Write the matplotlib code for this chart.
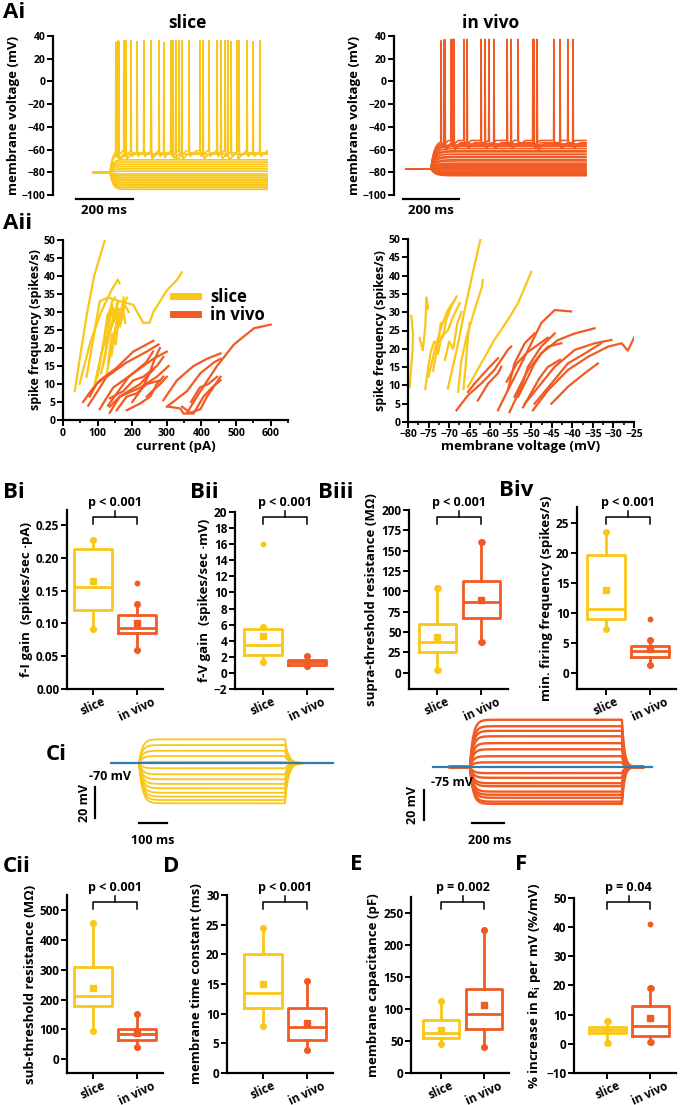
import numpy as np
import matplotlib
matplotlib.use("Agg")
import matplotlib.pyplot as plt
from matplotlib.transforms import blended_transform_factory
from matplotlib.ticker import MultipleLocator

plt.rcParams['font.family'] = ['Open Sans', 'DejaVu Sans']
plt.rcParams['font.weight'] = 'bold'
plt.rcParams['axes.labelweight'] = 'bold'
plt.rcParams['mathtext.default'] = 'regular'

W, H = 682, 1105
YEL = "#F9C619"
ORG = "#F15A22"
BLUE = "#2E7DAF"

# ---------------- data ----------------
# Ai: steady-state levels (mV) and spike times (ms) of the current-step traces
ai_slice_levels = [-95, -93.5, -92, -90.5, -89, -87.5, -86, -84.5, -83, -81.5, -79, -77, -75, -73, -71, -69]
ai_slice_spike_base = [-61, -63, -64]
ai_slice_spikes = [
    [80, 108, 133, 154, 178, 203, 231, 248, 273, 301, 336, 375, 406, 434, 462, 483, 511, 539, 560, 584],
    [87, 115, 203, 280, 311, 385, 448, 504],
    [90, 290, 472],
]
ai_vivo_levels = [-83, -82.5, -82, -81, -80.5, -80, -79, -78, -77, -76, -75, -74, -73, -72,
                  -70, -69, -67, -66, -64, -62, -61, -59, -57, -56]
ai_vivo_spike_base = [-52, -54, -55]
ai_vivo_spikes = [
    [125, 161, 207, 268, 296, 361, 400, 453, 528, 578],
    [136, 168, 218, 282, 314, 375, 457, 550, 596],
    [139, 171, 468],
]

# Aii: f-I curves (pA, spikes/s)
fi_slice = [
    [(34, 8), (50, 18), (70, 30), (90, 40), (121, 50)],
    [(48, 10), (80, 22), (110, 30), (140, 36), (158, 39), (163, 38)],
    [(68, 12), (90, 24), (106, 33), (130, 34), (165, 33), (203, 32), (220, 29), (232, 27), (250, 27),
     (261, 30), (300, 36), (330, 39), (343, 41)],
    [(92, 10), (110, 18), (125, 25), (135, 30), (142, 33), (150, 34)],
    [(100, 12), (118, 22), (128, 29), (138, 31), (146, 28), (160, 33)],
    [(115, 15), (130, 22), (142, 27), (152, 31), (165, 28), (175, 34)],
    [(95, 11), (112, 19), (128, 23), (145, 27), (160, 31), (170, 30)],
    [(125, 12), (140, 20), (150, 25), (160, 29), (172, 31), (180, 27)],
    [(130, 16), (142, 24), (152, 21), (160, 27), (168, 31), (185, 34)],
    [(110, 13), (122, 18), (133, 26), (141, 32), (150, 29), (158, 33)],
    [(140, 18), (150, 24), (158, 30), (165, 26), (178, 32), (190, 30)],
]
fi_vivo = [
    [(58, 5), (80, 8), (106, 11), (155, 14.5), (203, 19), (261, 22)],
    [(73, 4), (100, 8), (126, 12), (184, 16), (242, 19), (276, 21)],
    [(106, 3), (125, 6), (145, 9), (203, 13), (261, 17), (300, 19)],
    [(135, 2), (164, 6.5), (223, 9), (271, 12), (305, 15)],
    [(290, 5.5), (329, 11), (377, 15), (416, 17), (455, 18.5)],
    [(300, 3.7), (358, 8), (397, 13), (436, 16), (455, 17)],
    [(358, 2), (397, 8), (445, 15), (494, 21), (552, 25.5), (600, 26.5)],
    [(344, 3.7), (368, 2), (397, 3), (416, 6.5), (455, 12)],
    [(305, 3.7), (339, 3.2), (348, 1.8), (377, 1.8), (406, 6.5), (430, 9), (455, 11)],
    [(135, 3.7), (164, 6.5), (194, 8.3), (223, 10), (261, 14)],
    [(155, 2.7), (184, 6.5), (213, 7.4), (242, 10), (281, 11)],
    [(135, 6), (174, 8), (203, 11), (232, 12), (271, 15), (290, 17.5)],
    [(184, 2.7), (223, 4.6), (252, 6.5), (271, 10), (290, 12)],
    [(77, 6.5), (97, 10), (116, 11.5), (140, 13)],
    [(242, 6.5), (261, 8.3), (281, 10), (300, 12)],
    [(130, 4), (160, 8), (190, 12), (215, 14), (240, 16), (260, 19)],
    [(200, 5), (230, 9), (250, 13), (265, 17), (280, 20)],
    [(370, 5), (395, 9), (420, 10), (445, 12)],
]

# Aii: f-V curves (mV, spikes/s)
fv_slice = [
    [(-79.2, 29), (-78.8, 24), (-78.9, 19.6), (-79.6, 9.6)],
    [(-77.2, 23), (-76.4, 19.6), (-75.8, 26), (-75.5, 34), (-75.1, 31)],
    [(-75.8, 9), (-75.2, 14), (-74.5, 19), (-73.6, 22), (-72.8, 21), (-72, 27)],
    [(-70.3, 9.1), (-67.8, 21.5), (-66.2, 30.7), (-64.6, 38.9), (-62.3, 50.3)],
    [(-67.8, 8.2), (-67, 17), (-65.8, 23), (-63.8, 30.6), (-62, 37), (-61.8, 38.8)],
    [(-65.4, 9.6), (-62.2, 16), (-59, 22.4), (-55.7, 27.9), (-53.2, 32.5), (-51.5, 37), (-50, 41)],
    [(-75, 12.3), (-73.5, 19.7), (-71.9, 26), (-70.3, 30.6), (-68.6, 33.4)],
    [(-73.9, 14), (-72.7, 21.5), (-71.5, 23.3), (-70.7, 27.9), (-69.5, 31.5), (-68.2, 34.3)],
    [(-72.7, 18.7), (-71.9, 23.3), (-70.3, 25), (-69, 28.8), (-67.4, 32.5)],
    [(-66.5, 9), (-66, 15), (-65.5, 22), (-65, 27)],
    [(-71, 17), (-70, 22), (-69, 20), (-68, 27), (-67, 30)],
]
fv_vivo = [
    [(-68.2, 3.2), (-65.4, 7.3), (-62.2, 10.5), (-59, 14.2), (-55.7, 19.7), (-54.9, 20.6)],
    [(-65.4, 8.2), (-63.8, 10.5), (-60.5, 14.6), (-58.1, 17.4)],
    [(-63, 5.9), (-60.5, 10.5), (-58.1, 13.3), (-57.3, 15.1)],
    [(-58.1, 3.2), (-55.7, 8.7), (-53.2, 14.2), (-50.8, 19.7), (-49.2, 23.3), (-47.6, 27), (-44.3, 30.6), (-40.3, 30.2)],
    [(-55.3, 2.7), (-52.4, 9.6), (-50.8, 15.1), (-47.6, 20.6), (-44.3, 24.2)],
    [(-55.7, 8.7), (-54.1, 16), (-51.6, 21.5), (-49.2, 24.2)],
    [(-54.1, 6.9), (-50.8, 14.2), (-47.6, 18.7), (-43.5, 22.4), (-39.4, 24.2), (-34.6, 25.6)],
    [(-51.6, 5), (-47.6, 10.5), (-44.3, 15.1), (-39.4, 19.7), (-34.6, 21.5), (-30.5, 22.4)],
    [(-49.6, 3.2), (-45.9, 8.7), (-41.1, 14.2), (-36.2, 17.8), (-31.3, 20.6), (-28, 21.5), (-26.5, 19.5), (-25, 23)],
    [(-49.2, 5), (-45.1, 10.5), (-41.1, 16), (-37, 18.7), (-33, 21.5)],
    [(-45.1, 5), (-41.1, 9.6), (-37, 13.3), (-33.8, 16)],
    [(-53.2, 6.9), (-50.8, 12.3), (-49.2, 16), (-47.6, 18.7), (-45.9, 20.6), (-42.7, 21.5)],
    [(-56, 11), (-53.5, 16), (-51, 19), (-48.5, 21), (-46, 23)],
    [(-52, 4), (-50, 8), (-48, 12), (-46, 15), (-43, 17)],
]

# B / C / D / E / F box statistics: [whisker low, q1, median, q3, whisker high, mean]
bi_slice = [0.092, 0.120, 0.155, 0.214, 0.227, 0.164]
bi_vivo = [0.060, 0.085, 0.093, 0.113, 0.130, 0.100]
bi_out = [[], [0.161]]
bii_slice = [1.3, 2.2, 3.5, 5.4, 5.7, 4.6]
bii_vivo = [0.8, 1.0, 1.3, 1.6, 2.1, 1.2]
bii_out = [[16.0], []]
biii_slice = [3, 25, 38, 60, 104, 44]
biii_vivo = [38, 67, 87, 113, 161, 90]
biii_out = [[], []]
biv_slice = [7.4, 9.0, 10.6, 19.7, 23.5, 13.9]
biv_vivo = [1.3, 2.7, 3.7, 4.4, 5.5, 4.0]
biv_out = [[], [9.0]]
cii_slice = [93, 178, 212, 310, 455, 240]
cii_vivo = [42, 65, 85, 103, 152, 87]
cii_out = [[], []]
d_slice = [8.0, 11.0, 13.5, 20.0, 24.5, 15.0]
d_vivo = [3.8, 5.6, 7.8, 11.0, 15.5, 8.4]
d_out = [[], []]
e_slice = [45, 55, 62, 83, 112, 67]
e_vivo = [40, 68, 92, 131, 224, 106]
e_out = [[], []]
f_slice = [0.4, 3.6, 4.6, 5.8, 7.8, 4.6]
f_vivo = [0.5, 2.7, 6.0, 12.8, 19.0, 8.7]
f_out = [[], [41.0]]
groups = ["slice", "in vivo"]

# Ci: sub-threshold step levels (mV)
ci_slice_levels = [-54.7, -58.4, -62.1, -65.5, -69.2, -73.4, -77.3, -80.5, -83.5, -86.3, -89.2, -91.7, -93.9, -96.0]
ci_vivo_levels = [-43.5, -47.8, -50.9, -54.5, -59.1, -63.2, -67.8, -71.9, -79.1, -82.2, -85.8, -87.8,
                  -91.4, -93.5, -95.5, -98.1, -99.6]

# ---------------- helpers ----------------
fig = plt.figure(figsize=(W / 100, H / 100), dpi=100)


def px_ax(l, t, r, b):
    return fig.add_axes([l / W, 1 - b / H, (r - l) / W, (b - t) / H])


def ftext(x, y, s, **kw):
    fig.text(x / W, 1 - y / H, s, **kw)


def step_trace(t, t_on, t_off, v0, v_ss, tau_on, tau_off=10.0):
    dt = np.clip(t - t_on, 0, None)
    v = np.where(t < t_on, v0, v_ss + (v0 - v_ss) * np.exp(-dt / tau_on))
    if t_off is not None:
        v_end = v_ss + (v0 - v_ss) * np.exp(-(t_off - t_on) / tau_on)
        da = np.clip(t - t_off, 0, None)
        v = np.where(t >= t_off, v0 + (v_end - v0) * np.exp(-da / tau_off), v)
    return v


def add_spikes(t, v, base, spikes, peak):
    for ts in spikes:
        v = v + np.interp(t, [ts - 1.0, ts, ts + 1.5, ts + 4, ts + 25], [0, peak - base, 0, -5, 0])
    return v


def style_spines(ax, lw=1.6, size=8.5):
    for s in ["top", "right"]:
        ax.spines[s].set_visible(False)
    for s in ["left", "bottom"]:
        ax.spines[s].set_linewidth(lw)
    ax.tick_params(width=1.4, length=4, labelsize=size, pad=1.5)


def bracket(ax, y_px, text):
    tr = blended_transform_factory(ax.transData, fig.transFigure)
    yf = lambda p: 1 - p / H
    ax.plot([1, 1, 2, 2], [yf(y_px + 7), yf(y_px), yf(y_px), yf(y_px + 7)], transform=tr,
            color="k", lw=1.1, clip_on=False)
    ax.plot([1.5, 1.5], [yf(y_px), yf(y_px - 6)], transform=tr, color="k", lw=1.1, clip_on=False)
    ax.text(1.5, yf(y_px - 14), text, transform=tr, ha="center", va="center", fontsize=9)


def box_panel(ax, s_slice, s_vivo, outliers, ylim, ystep, ylabel, fmt=None):
    stats = []
    for st, fl, name in zip([s_slice, s_vivo], outliers, groups):
        stats.append(dict(whislo=st[0], q1=st[1], med=st[2], q3=st[3], whishi=st[4],
                          mean=st[5], fliers=fl, label=name))
    art = ax.bxp(stats, positions=[1, 2], widths=0.85, showmeans=True, capwidths=0.01)
    for i, c in enumerate([YEL, ORG]):
        art["boxes"][i].set(color=c, lw=2)
        art["medians"][i].set(color=c, lw=2)
        art["means"][i].set(marker="s", markersize=4, markerfacecolor=c, markeredgecolor=c)
        art["fliers"][i].set(marker="o", markersize=3.2, markerfacecolor=c, markeredgecolor=c)
        for k in (2 * i, 2 * i + 1):
            art["whiskers"][k].set(color=c, lw=2)
            art["caps"][k].set(color=c, lw=0, marker="o", markersize=3.8,
                               markerfacecolor=c, markeredgecolor=c)
    ax.set_ylim(*ylim)
    ax.yaxis.set_major_locator(MultipleLocator(ystep))
    if fmt:
        ax.yaxis.set_major_formatter(fmt)
    ax.set_xticks([1, 2])
    ax.set_xticklabels(groups, rotation=25, fontsize=9.5)
    ax.set_ylabel(ylabel, fontsize=9.5, labelpad=2)
    style_spines(ax, size=8.5)
    ax.tick_params(axis="x", pad=0.5)


# ---------------- Ai ----------------
ax = px_ax(53, 36, 270, 195)
t = np.arange(0, 610, 0.5)
for lv in ai_slice_levels:
    ax.plot(t, step_trace(t, 60, None, -80, lv, 9), color=YEL, lw=1.2)
for base, sp in zip(ai_slice_spike_base, ai_slice_spikes):
    v = step_trace(t, 60, None, -80, base, 8)
    ax.plot(t, add_spikes(t, v, base, sp, 36), color=YEL, lw=1.2)
ax.set_xlim((53 - 93) * 3.5, (270 - 93) * 3.5)
ax.set_ylim(-100, 40)
ax.set_yticks(range(-100, 41, 20))
ax.set_xticks([])
ax.spines["bottom"].set_visible(False)
style_spines(ax, size=7.5)
ax.set_ylabel("membrane voltage (mV)", fontsize=9.5, labelpad=1)
ax.plot([-60, 140], [-103.5, -103.5], color="k", lw=1.6, clip_on=False)
ftext(104, 211, "200 ms", ha="center", va="center", fontsize=9.5)
ftext(187, 23, "slice", ha="center", va="center", fontsize=12.5)

ax = px_ax(394, 36, 590, 195)
t = np.arange(0, 643, 0.5)
for lv in ai_vivo_levels:
    ax.plot(t, step_trace(t, 89, None, -77, lv, 14), color=ORG, lw=1.2)
for base, sp in zip(ai_vivo_spike_base, ai_vivo_spikes):
    v = step_trace(t, 89, None, -77, base, 12)
    ax.plot(t, add_spikes(t, v, base, sp, 37), color=ORG, lw=1.2)
ax.set_xlim((394 - 406) * 3.57, (590 - 406) * 3.57)
ax.set_ylim(-100, 40)
ax.set_yticks(range(-100, 41, 20))
ax.set_xticks([])
ax.spines["bottom"].set_visible(False)
style_spines(ax, size=7.5)
ax.set_ylabel("membrane voltage (mV)", fontsize=9.5, labelpad=1)
ax.plot([-11, 189], [-103.5, -103.5], color="k", lw=1.6, clip_on=False)
ftext(431, 211, "200 ms", ha="center", va="center", fontsize=9.5)
ftext(491, 23, "in vivo", ha="center", va="center", fontsize=12.5)

# ---------------- Aii ----------------
ax = px_ax(63, 240, 288, 420)
for c in fi_slice:
    x, y = zip(*c)
    ln_s, = ax.plot(x, y, color=YEL, lw=1.6)
for c in fi_vivo:
    x, y = zip(*c)
    ln_v, = ax.plot(x, y, color=ORG, lw=1.6)
ax.set_xlim(0, 650)
ax.set_ylim(0, 50)
ax.set_xticks(range(0, 601, 100))
ax.xaxis.set_minor_locator(MultipleLocator(50))
ax.set_yticks(range(0, 51, 5))
style_spines(ax, size=7.5)
ax.tick_params(which="minor", width=1.2, length=2.5)
ax.set_xlabel("current (pA)", fontsize=9.5, labelpad=1)
ax.set_ylabel("spike frequency (spikes/s)", fontsize=9, labelpad=1)
leg = ax.legend([ln_s, ln_v], groups, loc="upper left", bbox_to_anchor=(0.46, 0.77),
                frameon=False, fontsize=12, handlelength=1.5, handletextpad=0.7,
                labelspacing=0.0, borderaxespad=0)
for h in leg.get_lines():
    h.set_linewidth(5)

ax = px_ax(408, 239, 634, 422)
for c in fv_slice:
    x, y = zip(*c)
    ax.plot(x, y, color=YEL, lw=1.6)
for c in fv_vivo:
    x, y = zip(*c)
    ax.plot(x, y, color=ORG, lw=1.6)
ax.set_xlim(-80, -25)
ax.set_ylim(0, 50)
ax.set_xticks(range(-80, -24, 5))
ax.xaxis.set_minor_locator(MultipleLocator(2.5))
ax.set_yticks(range(0, 51, 5))
style_spines(ax, size=7.5)
ax.tick_params(which="minor", width=1.2, length=2.5)
ax.tick_params(axis="x", labelsize=7.5, pad=1)
ax.set_xlabel("membrane voltage (mV)", fontsize=9.5, labelpad=0)
ax.set_ylabel("spike frequency (spikes/s)", fontsize=9, labelpad=1)

# ---------------- B row ----------------
ax = px_ax(67, 510, 163, 689)
box_panel(ax, bi_slice, bi_vivo, bi_out, (0, 0.273), 0.05,
          "f-I gain  (spikes/sec \u00b7pA)", fmt="{x:.2f}")
ax.set_xlim(0.41, 2.59)
bracket(ax, 517, "p < 0.001")

ax = px_ax(235, 512, 333, 689)
box_panel(ax, bii_slice, bii_vivo, bii_out, (-2, 20), 2, "f-V gain  (spikes/sec \u00b7mV)")
ax.set_xlim(0.36, 2.59)
bracket(ax, 517, "p < 0.001")

ax = px_ax(409, 510, 508, 689)
box_panel(ax, biii_slice, biii_vivo, biii_out, (-20, 200), 25, "supra-threshold resistance (M\u03a9)")
ax.set_xlim(0.36, 2.6)
bracket(ax, 517, "p < 0.001")

ax = px_ax(577, 507, 676, 689)
box_panel(ax, biv_slice, biv_vivo, biv_out, (-2.7, 27.7), 5, "min. firing frequency (spikes/s)")
ax.set_xlim(0.34, 2.59)
bracket(ax, 517, "p < 0.001")

# ---------------- Ci ----------------
# slice: blue -70 mV line at y=763 px, 1.55 px/mV, 3.57 ms/px from x=111 px
ax = px_ax(80, 700, 340, 830)
t = np.arange(0, 746, 0.5)
for lv in ci_slice_levels:
    ax.plot(t, step_trace(t, 100, 621, -70, lv, 12, 12), color=YEL, lw=1.3)
ax.plot([0, (333 - 111) * 3.57], [-70, -70], color=BLUE, lw=1.6)
ax.set_xlim((80 - 111) * 3.57, (340 - 111) * 3.57)
ax.set_ylim(-70 - (830 - 763) / 1.55, -70 + (763 - 700) / 1.55)
ax.axis("off")
ax.plot([(95 - 111) * 3.57] * 2, [-85.5, -105.5], color="k", lw=1.6, clip_on=False)
ax.plot([100, 200], [-108.7, -108.7], color="k", lw=1.6, clip_on=False)
ftext(110, 777, "-70 mV", ha="center", va="center", fontsize=9)
ftext(85, 803, "20 mV", ha="center", va="center", fontsize=9, rotation=90)
ftext(153, 840, "100 ms", ha="center", va="center", fontsize=9)

# in vivo: blue -75 mV line at y=767 px, 1.5 px/mV, 6.25 ms/px from x=433 px
ax = px_ax(400, 700, 660, 830)
t = np.arange((450 - 433) * 6.25, (643 - 433) * 6.25, 1.0)
for lv in ci_vivo_levels:
    ax.plot(t, step_trace(t, 231, 1181, -75, lv, 20, 15), color=ORG, lw=1.7)
ax.plot([0, (652 - 433) * 6.25], [-75, -75], color=BLUE, lw=1.6)
ax.set_xlim((400 - 433) * 6.25, (660 - 433) * 6.25)
ax.set_ylim(-75 - (830 - 767) / 1.5, -75 + (767 - 700) / 1.5)
ax.axis("off")
ax.plot([(424 - 433) * 6.25] * 2, [-90.3, -110.3], color="k", lw=1.6, clip_on=False)
ax.plot([(472 - 433) * 6.25, (504 - 433) * 6.25], [-112.3, -112.3], color="k", lw=1.6, clip_on=False)
ftext(452, 782, "-75 mV", ha="center", va="center", fontsize=9)
ftext(413, 805, "20 mV", ha="center", va="center", fontsize=9, rotation=90)
ftext(490, 840, "200 ms", ha="center", va="center", fontsize=9)

# ---------------- bottom row ----------------
ax = px_ax(67, 895, 163, 1073)
box_panel(ax, cii_slice, cii_vivo, cii_out, (-46, 550), 100, "sub-threshold resistance (M\u03a9)")
ax.set_xlim(0.41, 2.59)
bracket(ax, 902, "p < 0.001")

ax = px_ax(227, 895, 333, 1073)
box_panel(ax, d_slice, d_vivo, d_out, (0, 30), 5, "membrane time constant (ms)")
ax.set_xlim(0.18, 2.59)
bracket(ax, 902, "p < 0.001")

ax = px_ax(411, 897, 509, 1073)
box_panel(ax, e_slice, e_vivo, e_out, (0, 275), 50, "membrane capacitance (pF)")
ax.set_xlim(0.3, 2.58)
bracket(ax, 902, "p = 0.002")

ax = px_ax(574, 898, 676, 1073)
box_panel(ax, f_slice, f_vivo, f_out, (-10, 50), 10, "% increase in R$_{i}$ per mV (%/mV)")
ax.set_xlim(0.22, 2.6)
bracket(ax, 902, "p = 0.04")

# ---------------- panel letters ----------------
for lab, x, y in [("Ai", 3, 13), ("Aii", 3, 224), ("Bi", 3, 492), ("Bii", 190, 492),
                  ("Biii", 318, 492), ("Biv", 499, 490), ("Ci", 46, 755), ("Cii", 3, 866),
                  ("D", 163, 866), ("E", 350, 865), ("F", 515, 865)]:
    ftext(x, y, lab, ha="left", va="center", fontsize=16)

fig.savefig("out.png", dpi=100)
